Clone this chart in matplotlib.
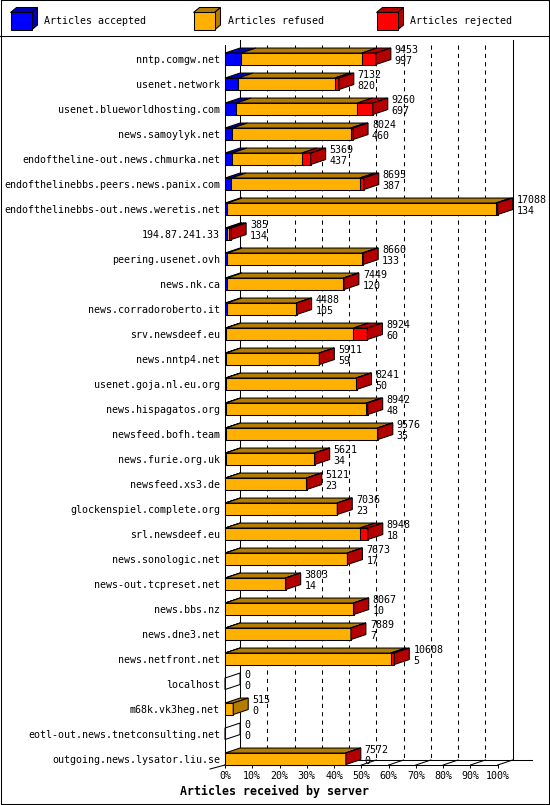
import matplotlib
matplotlib.use("Agg")
import matplotlib.pyplot as plt
import matplotlib.transforms as mtransforms
from matplotlib.patches import Polygon, Rectangle

# --- data (rejected counts)
hosts = [
    "nntp.comgw.net", "usenet.network", "usenet.blueworldhosting.com",
    "news.samoylyk.net", "endoftheline-out.news.chmurka.net",
    "endofthelinebbs.peers.news.panix.com", "endofthelinebbs-out.news.weretis.net",
    "194.87.241.33", "peering.usenet.ovh", "news.nk.ca", "news.corradoroberto.it",
    "srv.newsdeef.eu", "news.nntp4.net", "usenet.goja.nl.eu.org",
    "news.hispagatos.org", "newsfeed.bofh.team", "news.furie.org.uk",
    "newsfeed.xs3.de", "glockenspiel.complete.org", "srl.newsdeef.eu",
    "news.sonologic.net", "news-out.tcpreset.net", "news.bbs.nz", "news.dne3.net",
    "news.netfront.net", "localhost", "m68k.vk3heg.net",
    "eotl-out.news.tnetconsulting.net", "outgoing.news.lysator.liu.se",
]
offered = [9453, 7132, 9260, 8024, 5369, 8695, 17088, 385, 8660, 7449, 4488,
           8924, 5911, 8241, 8942, 9576, 5621, 5121, 7036, 8948, 7673, 3803,
           8067, 7889, 10608, 0, 515, 0, 7572]
accepted = [997, 820, 697, 460, 437, 387, 134, 134, 133, 120, 105,
            60, 59, 50, 48, 35, 34, 23, 23, 18, 17, 14,
            10, 7, 5, 0, 0, 0, 0]
rejected = [880, 260, 970, 150, 560, 260, 120, 120, 50, 30, 20,
            880, 20, 40, 90, 30, 20, 20, 20, 500, 20, 20,
            20, 20, 230, 0, 0, 0, 20]
refused = [o - a - r for o, a, r in zip(offered, accepted, rejected)]
pct_ticks = list(range(0, 101, 10))

series = [("Articles accepted", accepted, "#0000ff", "#0000b4"),
          ("Articles refused", refused, "#ffb000", "#b47c00"),
          ("Articles rejected", rejected, "#ff0000", "#b40000")]

W, H, DPI = 550, 805, 100
MONO = "DejaVu Sans Mono"
LW = 0.75
plt.rcParams["lines.scale_dashes"] = False

fig = plt.figure(figsize=(W / DPI, H / DPI), dpi=DPI)
fig.patch.set_facecolor("white")

# pixel overlay for frame and legend
over = fig.add_axes([0, 0, 1, 1], zorder=0)
over.set_xlim(0, W)
over.set_ylim(H, 0)
over.axis("off")
over.plot([0.5, 548.5, 548.5, 0.5, 0.5], [0.5, 0.5, 803.5, 803.5, 0.5], color="black", lw=LW)
over.plot([0, 549], [36.5, 36.5], color="black", lw=LW)

for (label, _, front, dark), fx in zip(series, [10.5, 193.5, 376.5]):
    over.add_patch(Polygon([(fx, 12.5), (fx + 21, 12.5), (fx + 27, 7.5), (fx + 6, 7.5)],
                           facecolor=dark, edgecolor="black", lw=LW))
    over.add_patch(Polygon([(fx + 21, 12.5), (fx + 21, 30), (fx + 27, 25), (fx + 27, 7.5)],
                           facecolor=dark, edgecolor="black", lw=LW))
    over.add_patch(Rectangle((fx, 12.5), 21, 17.5, facecolor=front, edgecolor="black", lw=LW))
    over.text(fx + 34, 20.5, label, fontsize=7.2, family=MONO, va="center", ha="left")

over.text(274, 791.5, "Articles received by server", fontsize=8.4, family=MONO,
          fontweight="bold", ha="center", va="center")

# main axes: front plane of the 3d bar chart
top_px, bot_px, left_px, right_px = 40, 765, 225, 497.7
first_px, row_px = 58.8, 25.0
xmax = max(offered)
n = len(hosts)
ax = fig.add_axes([left_px / W, 1 - bot_px / H, (right_px - left_px) / W, (bot_px - top_px) / H],
                  zorder=1)
ax.patch.set_alpha(0)
ybot = (bot_px - first_px) / row_px
ytop = -(first_px - top_px) / row_px
ax.set_xlim(0, xmax)
ax.set_ylim(ybot, ytop)

DX = 15 * xmax / (right_px - left_px)
DY = 5 / row_px
h = 11.5 / row_px
back = ax.transData + mtransforms.ScaledTranslation(0.15, 0.05, fig.dpi_scale_trans)

# back plane and floor
ax.plot([0, 0], [ytop + DY, ybot], transform=back, color="black", lw=LW, clip_on=False, zorder=1)
ax.plot([xmax, xmax], [ytop + DY, ybot], transform=back, color="black", lw=LW, clip_on=False, zorder=1)
ax.plot([0, xmax * 1.07], [ybot, ybot], transform=back, color="black", lw=LW, clip_on=False, zorder=1)
for p in pct_ticks[1:-1]:
    x = xmax * p / 100
    ax.plot([x, x], [ytop + 2 * DY, ybot], transform=back, color="black", lw=LW,
            ls=(0, (3, 3)), clip_on=False, zorder=1)
for p in pct_ticks:
    x = xmax * p / 100
    ax.plot([x, x + DX], [ybot, ybot - DY], color="black", lw=LW, clip_on=False, zorder=1)
ax.plot([0, 0], [ytop + DY, ybot], color="black", lw=LW, clip_on=False, zorder=2)
ax.plot([-DX, 0], [ybot + 0.8 * DY, ybot], color="black", lw=LW, clip_on=False, zorder=2)

# bars
for i in range(n):
    y0, y1 = i - h / 2, i + h / 2
    left = 0
    last = None
    for _, vals, front, dark in series:
        v = vals[i]
        if v <= 0:
            continue
        ax.barh(i, v, left=left, height=h, color=front, edgecolor="black", lw=LW,
                zorder=4, clip_on=False)
        ax.add_patch(Polygon([(left, y0), (left + v, y0), (left + v + DX, y0 - DY), (left + DX, y0 - DY)],
                             facecolor=dark, edgecolor="black", lw=LW, zorder=4, clip_on=False))
        left += v
        last = dark
    tot = offered[i]
    ax.add_patch(Polygon([(tot, y0), (tot, y1), (tot + DX, y1 - DY), (tot + DX, y0 - DY)],
                         facecolor=last if last else "none", edgecolor="black", lw=LW,
                         zorder=5, clip_on=False))
    ax.annotate(str(tot), xy=(tot, i), xytext=(19, 8.5), textcoords="offset pixels",
                fontsize=7.2, family=MONO, va="center", ha="left", zorder=6, annotation_clip=False)
    ax.annotate(str(accepted[i]), xy=(tot, i), xytext=(19, -2.5), textcoords="offset pixels",
                fontsize=7.2, family=MONO, va="center", ha="left", zorder=6, annotation_clip=False)

for s in ["top", "right", "left"]:
    ax.spines[s].set_visible(False)
ax.spines["bottom"].set_linewidth(LW)
ax.spines["bottom"].set_zorder(2)

ax.set_yticks(range(n))
ax.set_yticklabels(hosts, fontsize=7.2, family=MONO)
ax.tick_params(axis="y", length=0, pad=3.6)
ax.set_xticks([xmax * p / 100 for p in pct_ticks])
ax.set_xticklabels([f"{p}%" for p in pct_ticks], fontsize=7.2, family=MONO)
ax.tick_params(axis="x", length=2.2, width=LW, direction="out", pad=2)

fig.savefig("out.png", dpi=DPI, facecolor="white")
